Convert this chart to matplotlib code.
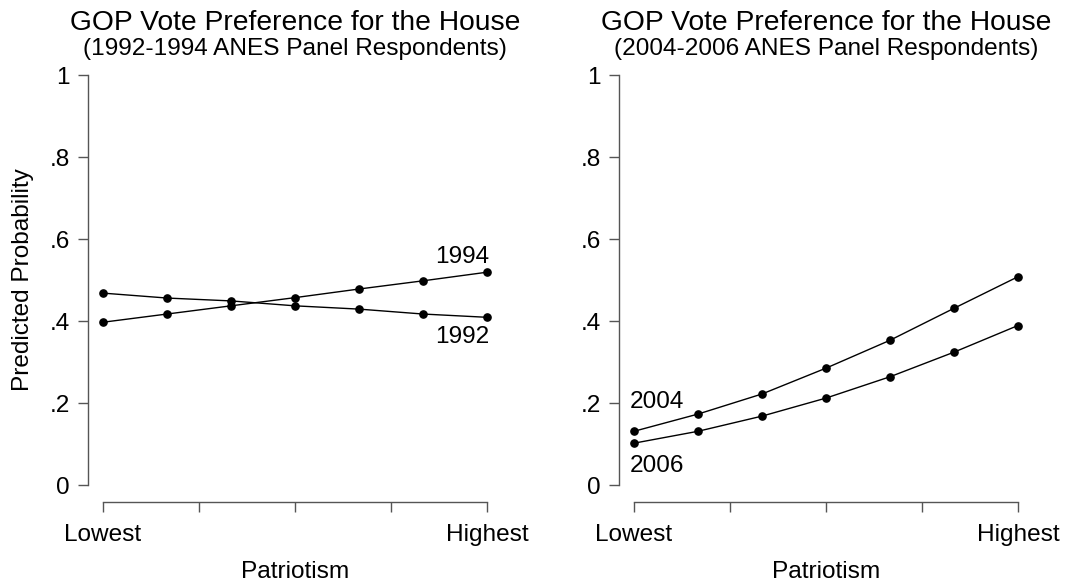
import matplotlib
matplotlib.use("Agg")
import matplotlib.pyplot as plt
import numpy as np

plt.rcParams['font.family'] = ['Liberation Sans', 'DejaVu Sans']

# predicted probabilities at seven patriotism levels
levels = np.arange(7)
p1992 = [0.468, 0.456, 0.449, 0.437, 0.429, 0.417, 0.409]
p1994 = [0.397, 0.417, 0.437, 0.457, 0.478, 0.498, 0.519]
p2004 = [0.131, 0.173, 0.222, 0.285, 0.353, 0.431, 0.508]
p2006 = [0.102, 0.131, 0.168, 0.212, 0.264, 0.324, 0.389]

ytick_vals = [0, 0.2, 0.4, 0.6, 0.8, 1]
ytick_labels = ['0', '.2', '.4', '.6', '.8', '1']
xtick_vals = [0, 1.5, 3, 4.5, 6]
xtick_labels = ['Lowest', '', '', '', 'Highest']

title = 'GOP Vote Preference for the House'
subtitles = ['(1992-1994 ANES Panel Respondents)',
             '(2004-2006 ANES Panel Respondents)']

W, H = 1070, 585
fig = plt.figure(figsize=(W / 100, H / 100), dpi=100)

axis_col = '#555555'
fs = 17.6

def setup(ax):
    ax.set_xlim(0, 6)
    ax.set_ylim(0, 1)
    for s in ['top', 'right']:
        ax.spines[s].set_visible(False)
    ax.spines['left'].set_position(('outward', 11))
    ax.spines['bottom'].set_position(('outward', 12.5))
    for s in ['left', 'bottom']:
        ax.spines[s].set_color(axis_col)
        ax.spines[s].set_linewidth(1)
    ax.set_yticks(ytick_vals)
    ax.set_yticklabels(ytick_labels)
    ax.set_xticks(xtick_vals)
    ax.set_xticklabels(xtick_labels)
    ax.tick_params(axis='y', length=7, width=1, color=axis_col, pad=6, labelsize=fs)
    ax.tick_params(axis='x', length=7, width=1, color=axis_col, pad=8.5, labelsize=fs)
    ax.set_xlabel('Patriotism', fontsize=fs, labelpad=11)
    ax.patch.set_visible(False)

def line(ax, vals):
    ax.plot(levels, vals, color='black', lw=1, marker='o', ms=5.2,
            clip_on=False)

bottom = (H - 485) / H
height = 410 / H
width = 384 / W

ax1 = fig.add_axes([103 / W, bottom, width, height])
setup(ax1)
line(ax1, p1992)
line(ax1, p1994)
ax1.set_ylabel('Predicted Probability', fontsize=fs, labelpad=11)
ax1.text(6.04, 0.541, '1994', ha='right', va='baseline', fontsize=fs)
ax1.text(6.04, 0.346, '1992', ha='right', va='baseline', fontsize=fs)

ax2 = fig.add_axes([634 / W, bottom, width, height])
setup(ax2)
line(ax2, p2004)
line(ax2, p2006)
ax2.text(-0.06, 0.187, '2004', ha='left', va='baseline', fontsize=fs)
ax2.text(-0.06, 0.031, '2006', ha='left', va='baseline', fontsize=fs)

for ax, sub in zip([ax1, ax2], subtitles):
    pos = ax.get_position()
    cx = (pos.x0 + pos.x1) / 2
    fig.text(cx, (H - 30) / H, title, ha='center', va='baseline', fontsize=20.3)
    fig.text(cx, (H - 55) / H, sub, ha='center', va='baseline', fontsize=fs)

fig.savefig('out.png', dpi=100, facecolor='white')
